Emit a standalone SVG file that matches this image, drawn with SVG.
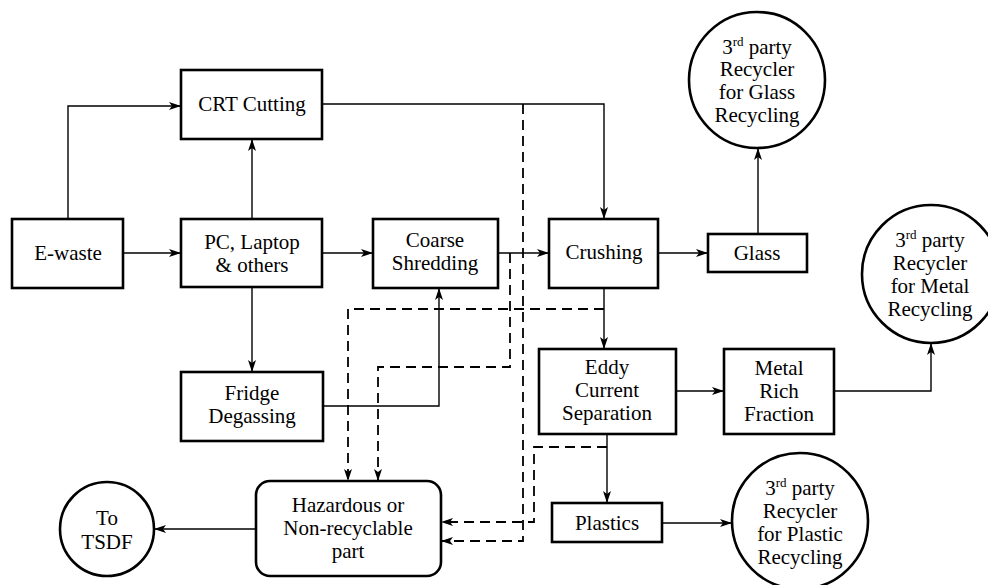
<svg xmlns="http://www.w3.org/2000/svg" width="988" height="585" viewBox="0 0 988 585">
<style>
.box{fill:#fff;stroke:#000;stroke-width:2.6}
.c{fill:none;stroke:#000;stroke-width:1.4}
.d{fill:none;stroke:#000;stroke-width:1.8;stroke-dasharray:10 6}
.t text{font-size:21px;fill:#000;text-anchor:middle}
.t .sup{font-size:13px}
</style>
<defs>
<marker id="ar" viewBox="0 0 12 8" refX="12" refY="4" markerWidth="12" markerHeight="8" markerUnits="userSpaceOnUse" orient="auto">
<path d="M0,0 L12,4 L0,8 L3,4 Z" fill="#000"/>
</marker>
</defs>
<rect width="988" height="585" fill="#fff"/>
<g id="connectors">
<path class="c" d="M68,219 V106 H181" marker-end="url(#ar)"/>
<path class="c" d="M123,253 H181" marker-end="url(#ar)"/>
<path class="c" d="M252,219 V139" marker-end="url(#ar)"/>
<path class="c" d="M322,253 H373" marker-end="url(#ar)"/>
<path class="c" d="M252,287 V372" marker-end="url(#ar)"/>
<path class="c" d="M323,406 H439 V288" marker-end="url(#ar)"/>
<path class="c" d="M322,104 H604 V219" marker-end="url(#ar)"/>
<path class="c" d="M498,253 H549" marker-end="url(#ar)"/>
<path class="c" d="M658,253 H708" marker-end="url(#ar)"/>
<path class="c" d="M758,234 V148" marker-end="url(#ar)"/>
<path class="c" d="M604,288 V349" marker-end="url(#ar)"/>
<path class="c" d="M676,391 H724" marker-end="url(#ar)"/>
<path class="c" d="M834,391 H931 V343" marker-end="url(#ar)"/>
<path class="c" d="M607,434 V503" marker-end="url(#ar)"/>
<path class="c" d="M662,523 H732" marker-end="url(#ar)"/>
<path class="c" d="M256,529 H154" marker-end="url(#ar)"/>
<path class="d" d="M523,104 V541 H441" marker-end="url(#ar)"/>
<path class="d" d="M510,253 V367 H378 V481" marker-end="url(#ar)"/>
<path class="d" d="M604,309 H348 V481" marker-end="url(#ar)"/>
<path class="d" d="M607,447 H534 V522 H441" marker-end="url(#ar)"/>
</g>
<g class="t" font-family="'Liberation Serif', 'Times New Roman', Tinos, 'DejaVu Serif', serif">
<g id="ewaste"><rect class="box" x="12" y="219" width="111" height="69"/><text x="68" y="260">E-waste</text></g>
<g id="crt"><rect class="box" x="181" y="70" width="141" height="69"/><text x="252" y="111">CRT Cutting</text></g>
<g id="pc"><rect class="box" x="181" y="219" width="141" height="68"/><text x="252" y="249">PC, Laptop</text><text x="252" y="272">&amp; others</text></g>
<g id="fridge"><rect class="box" x="181" y="372" width="142" height="69"/><text x="252" y="400">Fridge</text><text x="252" y="423">Degassing</text></g>
<g id="coarse"><rect class="box" x="373" y="219" width="125" height="69"/><text x="435" y="247">Coarse</text><text x="435" y="270">Shredding</text></g>
<g id="crushing"><rect class="box" x="549" y="219" width="109" height="69"/><text x="604" y="259">Crushing</text></g>
<g id="glass"><rect class="box" x="708" y="234" width="99" height="38"/><text x="757" y="260">Glass</text></g>
<g id="eddy"><rect class="box" x="539" y="349" width="137" height="85"/><text x="607" y="374">Eddy</text><text x="607" y="397">Current</text><text x="607" y="420">Separation</text></g>
<g id="metal"><rect class="box" x="724" y="349" width="110" height="85"/><text x="779" y="375">Metal</text><text x="779" y="398">Rich</text><text x="779" y="421">Fraction</text></g>
<g id="plastics"><rect class="box" x="552" y="503" width="110" height="39"/><text x="607" y="530">Plastics</text></g>
<g id="hazardous"><rect class="box" x="256" y="481" width="185" height="95" rx="14"/><text x="348" y="512">Hazardous or</text><text x="348" y="535">Non-recyclable</text><text x="348" y="558">part</text></g>
<g id="tsdf"><circle class="box" cx="107" cy="529" r="47"/><text x="107" y="525">To</text><text x="107" y="549">TSDF</text></g>
<g id="glassRecycler"><circle class="box" cx="757" cy="80" r="68"/><text x="757" y="54">3<tspan class="sup" dy="-8">rd</tspan><tspan dy="8"> party</tspan></text><text x="757" y="76">Recycler</text><text x="757" y="99">for Glass</text><text x="757" y="122">Recycling</text></g>
<g id="metalRecycler"><circle class="box" cx="931" cy="274" r="69"/><text x="930" y="247">3<tspan class="sup" dy="-8">rd</tspan><tspan dy="8"> party</tspan></text><text x="930" y="270">Recycler</text><text x="930" y="293">for Metal</text><text x="930" y="316">Recycling</text></g>
<g id="plasticRecycler"><circle class="box" cx="800" cy="521" r="68"/><text x="800" y="495">3<tspan class="sup" dy="-8">rd</tspan><tspan dy="8"> party</tspan></text><text x="800" y="518">Recycler</text><text x="800" y="541">for Plastic</text><text x="800" y="564">Recycling</text></g>
</g>
</svg>
